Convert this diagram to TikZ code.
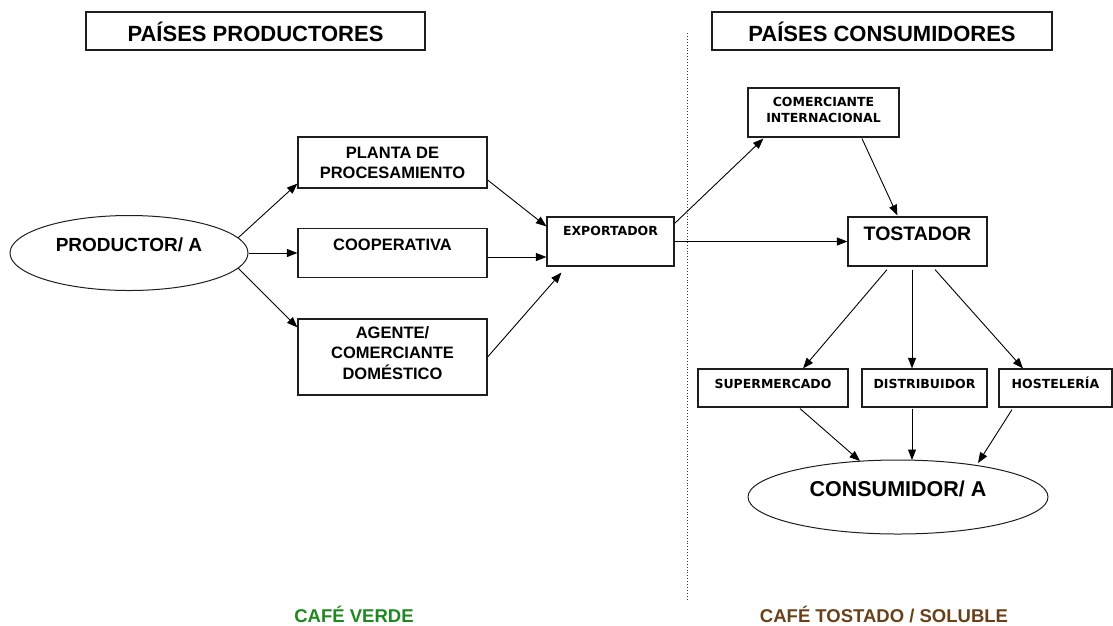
\documentclass[tikz,border=0pt]{standalone}
\usepackage{fontspec}
\setmainfont{Liberation Sans}
\newfontfamily\smallfam{DejaVu Sans}
\usetikzlibrary{shapes.geometric,arrows.meta,calc}
\definecolor{verde}{RGB}{30,135,30}
\definecolor{cafe}{RGB}{105,65,25}
\definecolor{linecol}{RGB}{30,30,30}
\newcommand{\lift}[2]{\raisebox{#1}[\height][\depth]{\begin{tabular}{@{}c@{}}#2\end{tabular}}}
\begin{document}
\begin{tikzpicture}[x=1pt,y=-1pt,
  box/.style={draw=linecol, line width=1.2pt, inner sep=0pt, rectangle},
  oval/.style={draw=linecol, line width=1.0pt, ellipse, inner sep=0pt},
  headfont/.style={font=\bfseries\fontsize{22}{25}\selectfont},
  bigfont/.style={font=\bfseries\fontsize{16.5}{20}\selectfont},
  smallfont/.style={font=\smallfam\bfseries\fontsize{12.5}{16}\selectfont},
  arr/.style={draw=black, line width=0.9pt, -{Triangle[length=10.5pt,width=8pt]}},
  foot/.style={font=\bfseries\fontsize{18.5}{23}\selectfont, anchor=base, inner sep=0pt},
]
\useasboundingbox (0,0) rectangle (1113,625);

% headers
\node[box, headfont, minimum width=339pt, minimum height=38pt] (hp) at (255.5,31) {\lift{-4.5pt}{PAÍSES PRODUCTORES}};
\node[box, headfont, minimum width=340pt, minimum height=38pt] (hc) at (882,31) {\lift{-4.5pt}{PAÍSES CONSUMIDORES}};

% divider
\coordinate (dtop) at (687,33);
\coordinate (dbot) at (687,600);
\draw[dotted, line width=0.9pt, black!80] (dtop) -- (dbot);

% producing side
\node[oval, font=\bfseries\fontsize{19}{23}\selectfont, minimum width=238pt, minimum height=75pt] (prod) at (129,253) {\lift{5.8pt}{PRODUCTOR/ A}};
\node[box, bigfont, minimum width=189pt, minimum height=51pt] (plant) at (392.5,162.5) {\lift{-1.5pt}{PLANTA DE\\PROCESAMIENTO}};
\node[box, bigfont, minimum width=189pt, minimum height=49pt] (coop) at (392.5,253) {\lift{6.5pt}{COOPERATIVA}};
\node[box, bigfont, minimum width=189pt, minimum height=76pt] (agent) at (392.5,357) {\lift{2pt}{AGENTE/\\COMERCIANTE\\DOMÉSTICO}};
\node[box, smallfont, minimum width=127pt, minimum height=49pt] (exp) at (610.5,241.5) {\lift{9.3pt}{EXPORTADOR}};

% consuming side
\node[box, smallfont, minimum width=151pt, minimum height=49pt] (com) at (823.5,112.5) {\lift{1.3pt}{COMERCIANTE\\INTERNACIONAL}};
\node[box, font=\bfseries\fontsize{19.5}{24}\selectfont, minimum width=139pt, minimum height=49pt] (tost) at (917.5,241.5) {\lift{6pt}{TOSTADOR}};
\node[box, smallfont, minimum width=150pt, minimum height=38pt] (super) at (773,388) {\lift{2.8pt}{SUPERMERCADO}};
\node[box, smallfont, minimum width=125pt, minimum height=38pt] (dist) at (924.5,388) {\lift{2.8pt}{DISTRIBUIDOR}};
\node[box, smallfont, minimum width=113pt, minimum height=38pt] (host) at (1055.5,388) {\lift{2.8pt}{HOSTELERÍA}};
\node[oval, font=\bfseries\fontsize{21.5}{26}\selectfont, minimum width=300pt, minimum height=74pt] (cons) at (898,497) {\lift{5.5pt}{CONSUMIDOR/ A}};

% connectors, producing side
\draw[arr] (prod.8) -- ($(plant.south west)+(0,-5)$);
\draw[arr] (prod.east) -- (coop.west |- prod.east);
\draw[arr] (prod.-8) -- ($(agent.north west)+(0,9)$);
\draw[arr] ($(plant.east)+(0,17.5)$) -- ($(exp.north west)+(0,10)$);
\draw[arr] ($(coop.east)+(0,4)$) -- ($(exp.west)+(0,15.5)$);
\draw[arr] (agent.east) -- ($(exp.south west)+(15,6)$);

% connectors, consuming side
\draw[arr] ($(exp.north east)+(0,7)$) -- ($(com.south west)+(16,1)$);
\draw[arr] (exp.east) -- (tost.west);
\draw[arr] ($(com.south)+(38.5,1)$) -- ($(tost.north west)+(50,-1)$);
\draw[arr] ($(tost.south)+(-30.5,3)$) -- ($(super.north)+(30,0)$);
\draw[arr] ($(tost.south)+(-5.5,3)$) -- ($(dist.north)+(-12.5,0)$);
\draw[arr] ($(tost.south)+(17.5,3)$) -- ($(host.north)+(-32.5,0)$);
\draw[arr] ($(super.south)+(27,1)$) -- ($(cons.center)+(-38,-36)$);
\draw[arr] ($(dist.south)+(-12.5,1)$) -- ($(cons.center)+(14,-37)$);
\draw[arr] ($(host.south)+(-43.5,2)$) -- ($(cons.center)+(80,-34)$);

% footer labels
\node[foot, text=verde] (fv) at (354,622) {CAFÉ VERDE};
\node[foot, text=cafe] (ft) at (884,622) {CAFÉ TOSTADO / SOLUBLE};
\end{tikzpicture}
\end{document}
